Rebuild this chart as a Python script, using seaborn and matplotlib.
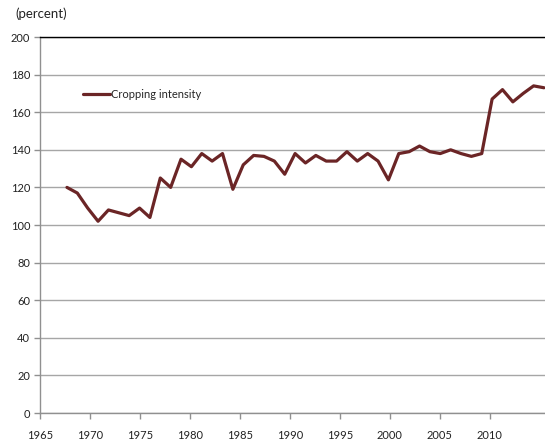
import numpy as np
import pandas as pd
import matplotlib
matplotlib.use("Agg")
import matplotlib.pyplot as plt
import seaborn as sns

# values
years = list(range(1967, 2014))
cropping_intensity = [
    120, 117, 109, 102, 108, 106.5, 105, 109, 104, 125,
    120, 135, 131, 138, 134, 138, 119, 132, 137, 136.5,
    134, 127, 138, 133, 137, 134, 134, 139, 134, 138,
    134, 124, 138, 139, 142, 139, 138, 140, 138, 136.5,
    138, 167, 172, 165.5, 170, 174, 173,
]
tick_years = [1965, 1970, 1975, 1980, 1985, 1990, 1995, 2000, 2005, 2010]
y_ticks = list(range(0, 201, 20))

df = pd.DataFrame({"year": years, "Cropping intensity": cropping_intensity})

sns.set_style("white")
plt.rcParams["font.family"] = ["Lato", "DejaVu Sans"]

fig = plt.figure(figsize=(5.45, 4.41), dpi=100)
ax = fig.add_axes([40 / 545, 1 - 413 / 441, 1 - 40 / 545, (413 - 37) / 441])

# axis with the year ticks and grid
ax.set_xlim(1965, 2015.55)
ax.set_ylim(0, 200)
ax.set_xticks(tick_years)
ax.set_yticks(y_ticks)
ax.yaxis.grid(True, color="#a6a6a6", linewidth=1.0)
ax.set_axisbelow(True)
ax.tick_params(axis="both", direction="out", length=4, width=1, color="#909090",
               labelsize=8, labelcolor="#222222")
ax.tick_params(axis="x", pad=8)
ax.tick_params(axis="y", pad=3)
ax.tick_params(bottom=True, left=True)
for side in ["left", "bottom"]:
    ax.spines[side].set_color("#909090")
    ax.spines[side].set_linewidth(1.0)
ax.spines["top"].set_color("black")
ax.spines["top"].set_linewidth(1.0)
ax.spines["right"].set_visible(False)

# the series sits on its own horizontal scale, like the source chart
ax2 = ax.twiny()
sns.lineplot(data=df, x="year", y="Cropping intensity", ax=ax2,
             color="#6b2526", linewidth=2.3, label="Cropping intensity")
ax2.set_xlim(1964.4, 2013.1)
ax2.set_ylim(0, 200)
ax2.set_xticks([])
ax2.set_xlabel("")
ax2.set_ylabel("")
for s in ax2.spines.values():
    s.set_visible(False)

leg = ax2.legend(loc="center left", bbox_to_anchor=(0.085, 0.848), frameon=False,
                 fontsize=8, handlelength=2.4, handletextpad=0.15, borderaxespad=0,
                 borderpad=0)
for line in leg.get_lines():
    line.set_linewidth(2.3)

fig.text(15 / 545, 1 - 14 / 441, "(percent)", fontsize=9.5, color="#222222",
         va="center", ha="left")

fig.savefig("out.png", dpi=100)
